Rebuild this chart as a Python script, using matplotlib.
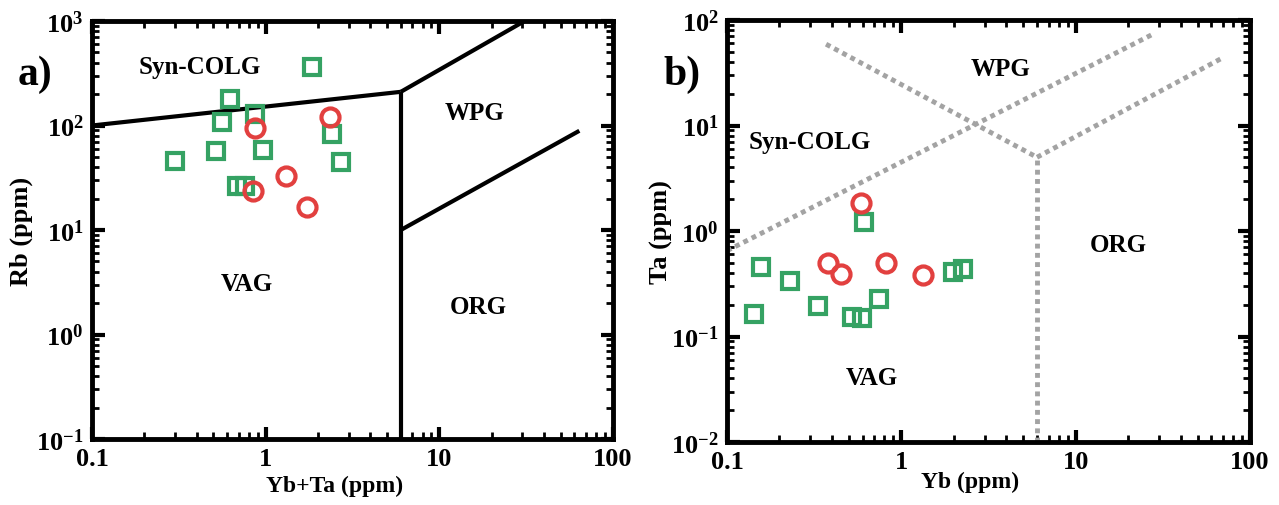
import math
import matplotlib
matplotlib.use("Agg")
import matplotlib.pyplot as plt
import matplotlib.ticker as mticker

plt.rcParams["font.family"] = ["Liberation Serif", "DejaVu Serif"]
plt.rcParams["font.weight"] = "bold"
plt.rcParams["mathtext.fontset"] = "custom"
plt.rcParams["mathtext.rm"] = "Liberation Serif:bold"
plt.rcParams["mathtext.bf"] = "Liberation Serif:bold"
plt.rcParams["mathtext.it"] = "Liberation Serif:bold"

GREEN = "#35a263"
RED = "#e2403f"
GRAY = "#a3a3a3"

# ---- panel a) Rb vs Yb+Ta ----
a_sq_x = [1.85, 0.62, 0.87, 0.56, 2.4, 0.30, 0.52, 0.97, 2.7, 0.68, 0.76]
a_sq_y = [360, 180, 128, 108, 83, 46, 57, 58, 45, 26.5, 26.5]
a_ci_x = [0.87, 2.35, 1.31, 0.84, 1.72]
a_ci_y = [95, 120, 33, 23.5, 16.5]

# boundary segments (x pairs, y pairs)
a_lines = [
    ([0.1, 6], [100, 210]),
    ([6, 6], [0.1, 210]),
    ([6, 31], [210, 1000]),
    ([6, 64], [10, 89]),
]

# ---- panel b) Ta vs Yb ----
b_sq_x = [0.61, 0.157, 0.231, 0.334, 0.142, 0.523, 0.598, 0.745, 1.99, 2.25]
b_sq_y = [1.22, 0.46, 0.333, 0.196, 0.163, 0.154, 0.149, 0.226, 0.41, 0.44]
b_ci_x = [0.59, 0.38, 0.45, 0.82, 1.33]
b_ci_y = [1.83, 0.50, 0.39, 0.50, 0.385]

b_lines = [
    ([0.1, 28], [0.65, 74]),
    ([0.37, 6], [59, 5]),
    ([6, 70], [5, 44]),
    ([6, 6], [0.01, 5]),
]

fig = plt.figure(figsize=(12.79, 5.06), dpi=100)
ax1 = fig.add_axes([92 / 1279, 1 - 440 / 506, 521 / 1279, 418 / 506])
ax2 = fig.add_axes([727 / 1279, 1 - 443 / 506, 523 / 1279, 422 / 506])


def pow_fmt(v, pos):
    e = int(round(math.log10(v)))
    return r"$\mathregular{10^{%d}}$" % e


def style_axis(ax, ylim):
    ax.set_xscale("log")
    ax.set_yscale("log")
    ax.set_xlim(0.1, 100)
    ax.set_ylim(*ylim)
    ax.xaxis.set_major_locator(mticker.LogLocator(base=10, numticks=10))
    ax.xaxis.set_major_formatter(mticker.FuncFormatter(lambda v, p: f"{v:g}"))
    ax.yaxis.set_major_locator(mticker.LogLocator(base=10, numticks=10))
    ax.yaxis.set_major_formatter(mticker.FuncFormatter(pow_fmt))
    ax.xaxis.set_minor_locator(mticker.LogLocator(base=10, subs=range(2, 10), numticks=10))
    ax.yaxis.set_minor_locator(mticker.LogLocator(base=10, subs=range(2, 10), numticks=10))
    ax.xaxis.set_minor_formatter(mticker.NullFormatter())
    ax.yaxis.set_minor_formatter(mticker.NullFormatter())
    ax.tick_params(which="both", direction="in", top=True, right=True)
    ax.tick_params(which="major", length=9, width=3, labelsize=19, pad=6)
    ax.tick_params(which="minor", length=5, width=2)
    for sp in ax.spines.values():
        sp.set_linewidth(3.5)


style_axis(ax1, (0.1, 1000))
for xs, ys in a_lines:
    ax1.plot(xs, ys, color="black", lw=3, solid_capstyle="butt")
ax1.plot(a_sq_x, a_sq_y, ls="none", marker="s", ms=11, mfc="none", mec=GREEN, mew=3, zorder=5)
ax1.plot(a_ci_x, a_ci_y, ls="none", marker="o", ms=13, mfc="none", mec=RED, mew=3, zorder=6)
ax1.set_xlabel("Yb+Ta (ppm)", fontsize=17, fontweight="bold")
ax1.set_ylabel("Rb (ppm)", fontsize=19, fontweight="bold")
ax1.xaxis.set_label_coords(0.466, -0.085)
ax1.yaxis.set_label_coords(-0.113, 0.5)
for txt, fx, fy in [("Syn-COLG", 0.207, 0.89), ("WPG", 0.735, 0.782),
                    ("VAG", 0.297, 0.371), ("ORG", 0.741, 0.318)]:
    ax1.text(fx, fy, txt, transform=ax1.transAxes, ha="center", va="center",
             fontsize=18, fontweight="bold")

style_axis(ax2, (0.01, 100))
for xs, ys in b_lines:
    ax2.plot(xs, ys, color=GRAY, lw=3.5, dashes=(1, 0.9), solid_capstyle="butt")
ax2.plot(b_sq_x, b_sq_y, ls="none", marker="s", ms=11, mfc="none", mec=GREEN, mew=3, zorder=5)
ax2.plot(b_ci_x, b_ci_y, ls="none", marker="o", ms=13, mfc="none", mec=RED, mew=3, zorder=6)
ax2.set_xlabel("Yb (ppm)", fontsize=17, fontweight="bold")
ax2.set_ylabel("Ta (ppm)", fontsize=19, fontweight="bold")
ax2.xaxis.set_label_coords(0.465, -0.068)
ax2.yaxis.set_label_coords(-0.103, 0.5)
for txt, fx, fy in [("WPG", 0.522, 0.884), ("Syn-COLG", 0.159, 0.713),
                    ("ORG", 0.748, 0.469), ("VAG", 0.277, 0.154)]:
    ax2.text(fx, fy, txt, transform=ax2.transAxes, ha="center", va="center",
             fontsize=18, fontweight="bold")

fig.text(35 / 1279, 1 - 75 / 506, "a)", fontsize=30, fontweight="bold", ha="center", va="center")
fig.text(682 / 1279, 1 - 75 / 506, "b)", fontsize=30, fontweight="bold", ha="center", va="center")

fig.savefig("out.png", dpi=100)
